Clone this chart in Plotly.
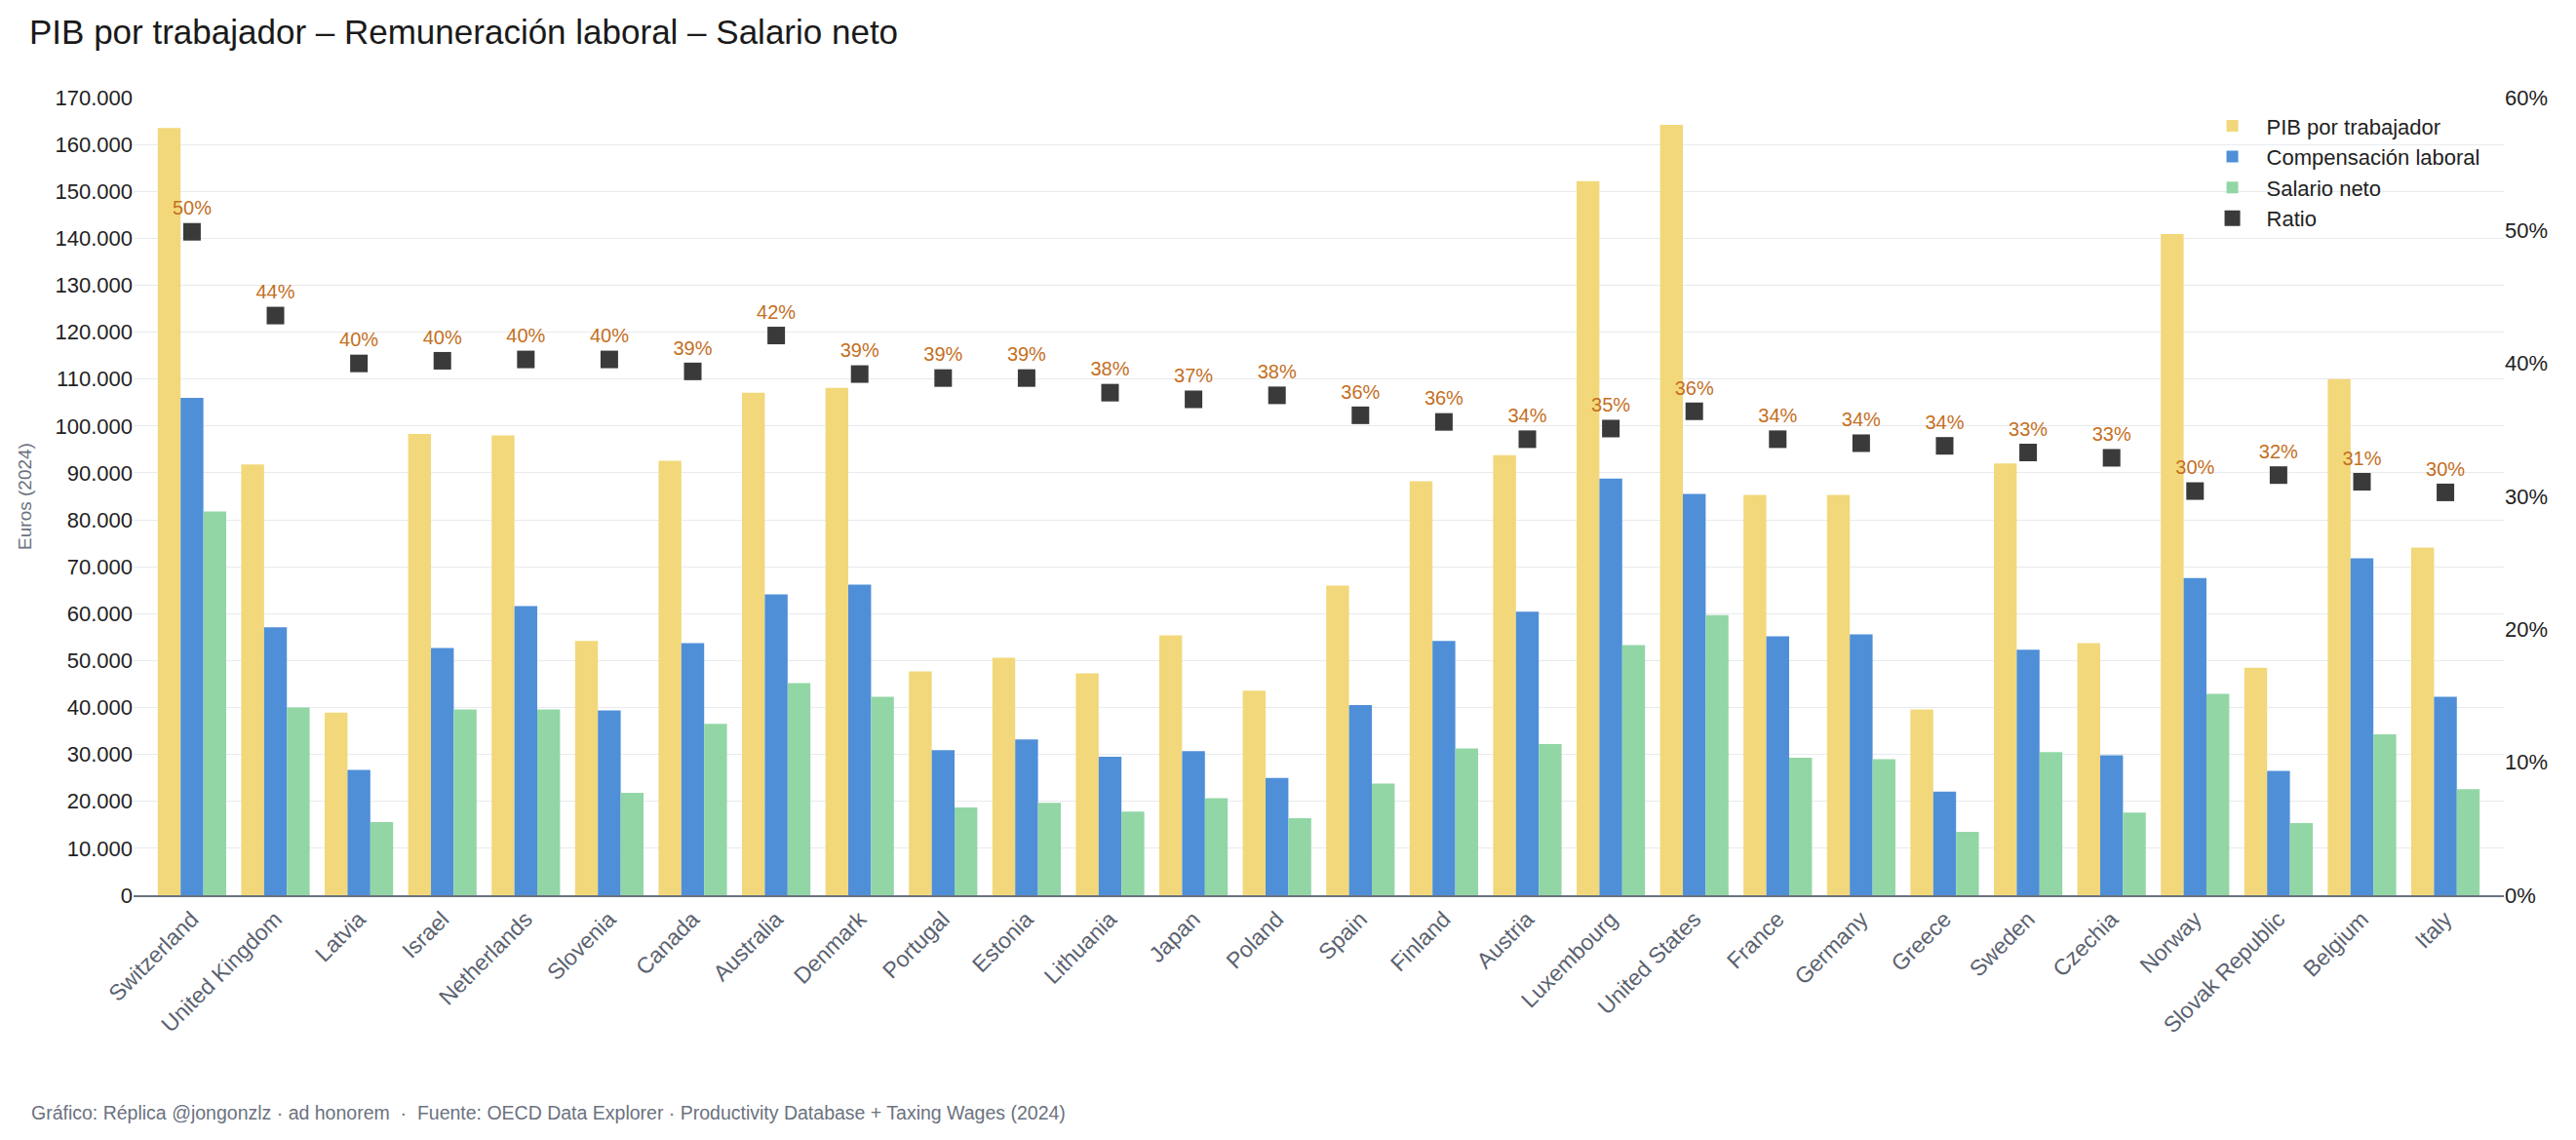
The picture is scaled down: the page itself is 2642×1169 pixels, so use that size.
import plotly.graph_objects as go

countries = ["Switzerland", "United Kingdom", "Latvia", "Israel", "Netherlands", "Slovenia",
             "Canada", "Australia", "Denmark", "Portugal", "Estonia", "Lithuania", "Japan",
             "Poland", "Spain", "Finland", "Austria", "Luxembourg", "United States", "France",
             "Germany", "Greece", "Sweden", "Czechia", "Norway", "Slovak Republic", "Belgium", "Italy"]

pib_trabajador = [163500, 91800, 38900, 98300, 98000, 54200, 92600, 107100, 108100, 47700,
                  50600, 47300, 55400, 43600, 66000, 88200, 93800, 152200, 164200, 85300,
                  85300, 39600, 92000, 53700, 140900, 48500, 110000, 74100]

compensacion = [106000, 57100, 26700, 52700, 61600, 39400, 53700, 64100, 66200, 30900,
                33200, 29500, 30700, 25000, 40500, 54200, 60400, 88800, 85500, 55200,
                55600, 22100, 52300, 29800, 67600, 26500, 71800, 42300]

salario_neto = [81800, 40000, 15600, 39600, 39600, 21800, 36500, 45200, 42300, 18700,
                19700, 17800, 20700, 16400, 23800, 31300, 32200, 53300, 59700, 29300,
                29000, 13500, 30500, 17600, 42900, 15400, 34300, 22600]

ratio_pct = [49.9, 43.6, 40.0, 40.2, 40.3, 40.3, 39.4, 42.1, 39.2, 38.9, 38.9, 37.8, 37.3,
             37.6, 36.1, 35.6, 34.3, 35.1, 36.4, 34.3, 34.0, 33.8, 33.3, 32.9, 30.4, 31.6,
             31.1, 30.3]

FONT = "Liberation Sans, Arial, Helvetica, sans-serif"

fig = go.Figure()
fig.add_trace(go.Bar(x=countries, y=pib_trabajador, name="PIB por trabajador",
                     marker=dict(color="#F2D87A", line=dict(width=0))))
fig.add_trace(go.Bar(x=countries, y=compensacion, name="Compensación laboral",
                     marker=dict(color="#4F8FD8", line=dict(width=0))))
fig.add_trace(go.Bar(x=countries, y=salario_neto, name="Salario neto",
                     marker=dict(color="#92D6A6", line=dict(width=0))))
fig.add_trace(go.Scatter(x=countries, y=ratio_pct, name="Ratio", yaxis="y2",
                         mode="markers+text",
                         marker=dict(symbol="square", size=18, color="#3A3A3A",
                                     line=dict(width=0)),
                         texttemplate="%{y:.0f}%", textposition="top center",
                         textfont=dict(color="#C46F1E", size=20, family=FONT)))

fig.update_layout(
    width=2642, height=1169,
    margin=dict(l=137, r=74, t=100, b=251),
    paper_bgcolor="white", plot_bgcolor="white",
    separators=",.",
    barmode="group", bargap=0.18, bargroupgap=0,
    font=dict(family=FONT, size=22, color="#222222"),
    title=dict(text="PIB por trabajador – Remuneración laboral – Salario neto",
               x=30 / 2642, xref="container", xanchor="left",
               y=1 - 33 / 1169, yref="container", yanchor="middle",
               font=dict(size=35, color="#1a1a1a", family=FONT)),
    xaxis=dict(range=[-0.7, 27.7], tickangle=-45, showgrid=False,
               showline=True, linecolor="#6b7280", linewidth=2,
               ticks="", tickfont=dict(size=23, color="#5b6270")),
    yaxis=dict(range=[0, 170000], dtick=10000, tickformat=",d",
               showgrid=True, gridcolor="#e8eaee", gridwidth=1,
               zeroline=False, showline=False, ticks="",
               tickfont=dict(size=22, color="#222222"),
               title=dict(text="Euros (2024)", font=dict(size=19, color="#6b7280"),
                          standoff=18)),
    yaxis2=dict(range=[0, 60], dtick=10, ticksuffix="%", overlaying="y", side="right",
                showgrid=False, zeroline=False, showline=False, ticks="",
                tickfont=dict(size=22, color="#222222")),
    legend=dict(x=0.992, y=0.99, xanchor="right", yanchor="top",
                bgcolor="rgba(0,0,0,0)", font=dict(size=22, color="#222222"),
                itemwidth=60, tracegroupgap=0),
    annotations=[dict(
        text="Gráfico: Réplica @jongonzlz · ad honorem  ·  Fuente: OECD Data Explorer · Productivity Database + Taxing Wages (2024)",
        xref="paper", yref="paper", x=(30 - 137) / 2431, y=(918 - 1141) / 818,
        xanchor="left", yanchor="middle", showarrow=False,
        font=dict(size=19.5, color="#6b7280", family=FONT))],
)

fig.write_html("out.html")
